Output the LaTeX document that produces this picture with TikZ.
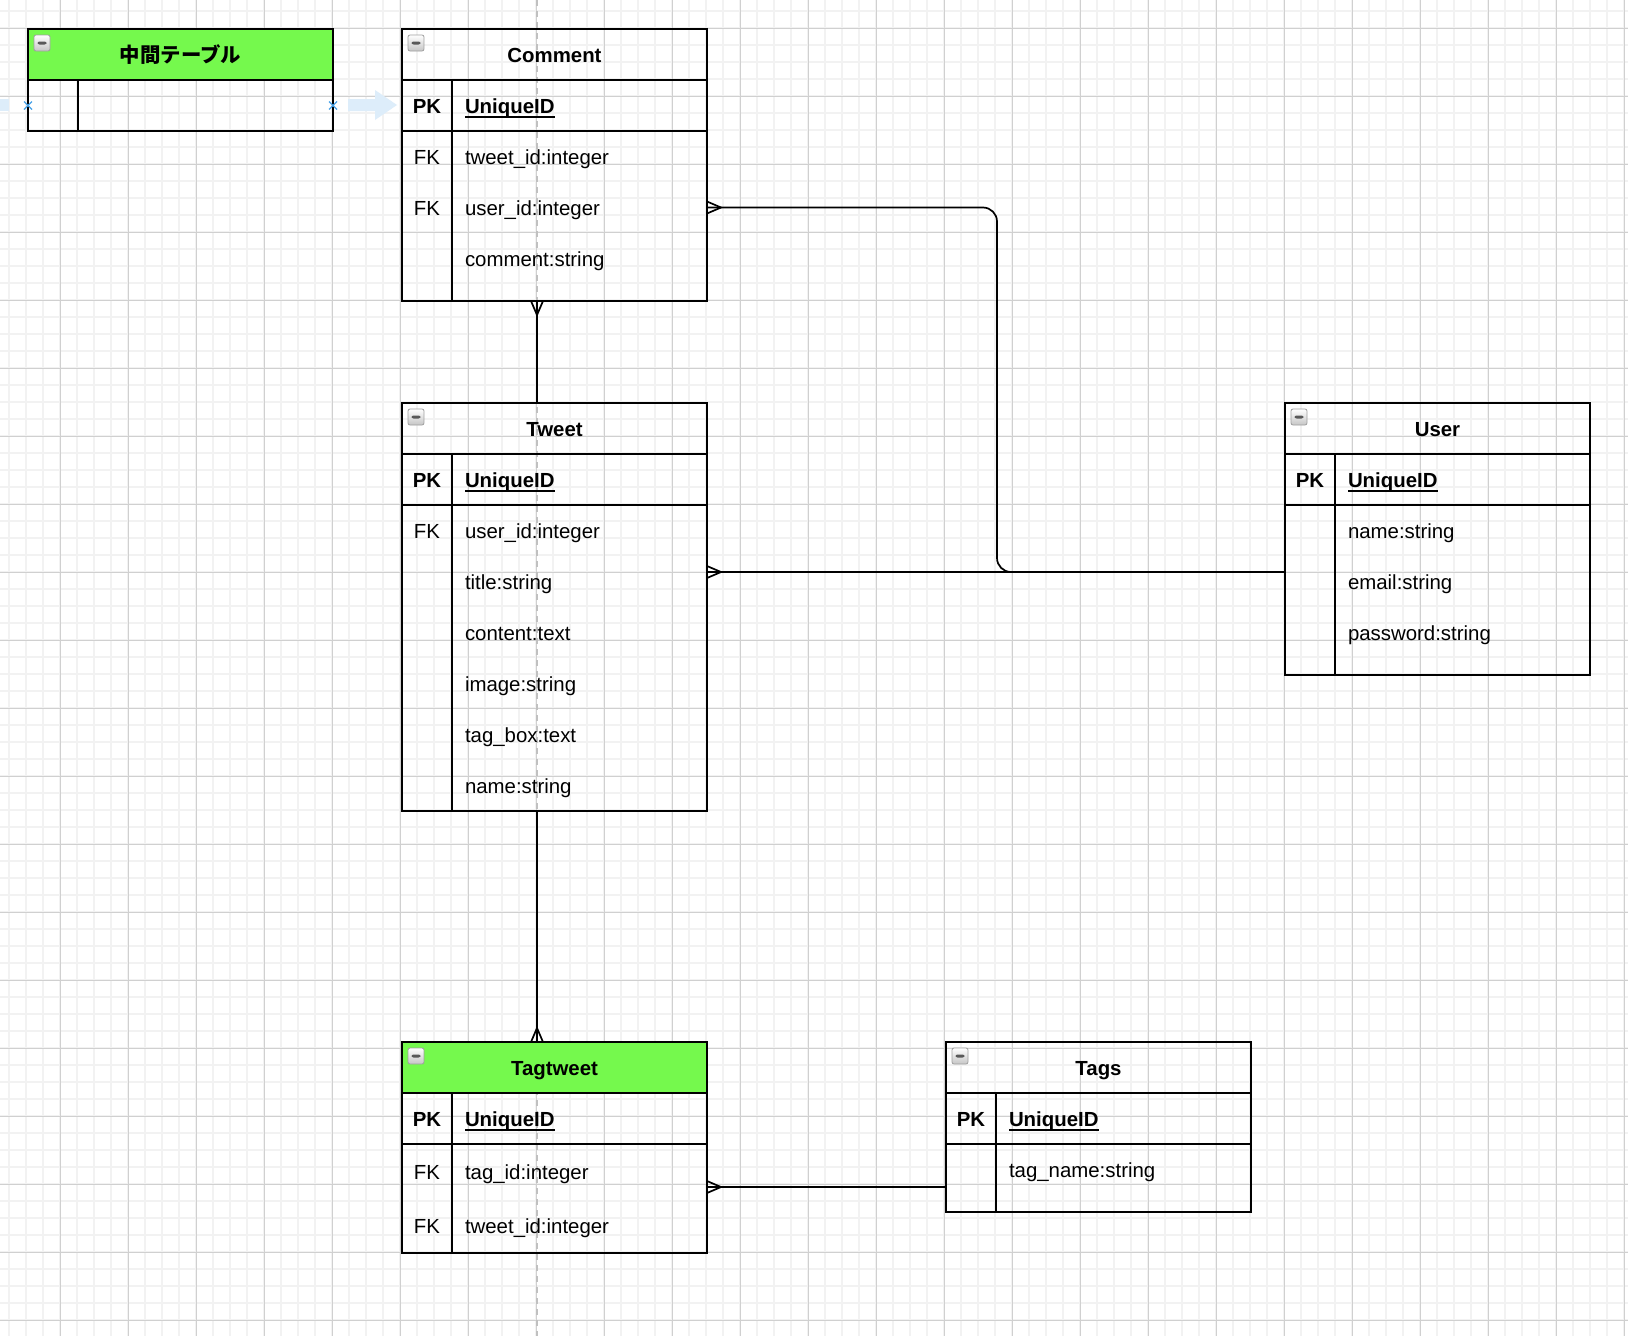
\documentclass[tikz,border=0pt]{standalone}
\usepackage{fontspec}
\setmainfont{Liberation Sans}
\newfontfamily\jpfont{Noto Sans CJK JP}
\usepackage{tikz}
\usetikzlibrary{positioning, decorations.markings}

\definecolor{headgreen}{RGB}{117,249,77}
\definecolor{gridmajorc}{RGB}{208,208,208}
\definecolor{gridminorc}{RGB}{242,242,242}
\definecolor{guidegray}{RGB}{192,192,192}
\definecolor{hoverblue}{RGB}{221,237,250}
\definecolor{markblue}{RGB}{72,162,232}

\newcommand{\tblfont}{\fontsize{20.4}{24.5}\selectfont}
\newsavebox{\keybox}
\newcommand{\keyname}[1]{\sbox{\keybox}{#1}\rlap{\rule[-4pt]{\wd\keybox}{1.6pt}}\usebox{\keybox}}

\begin{document}
\begin{tikzpicture}[x=1pt, y=-1pt,
        entity/.style={draw=black, line width=1.7pt, rectangle, minimum width=305pt, inner sep=0pt, outer sep=0pt},
        entityhead/.style={entity, anchor=north west, minimum height=51pt, font=\tblfont\bfseries, text height=17.6pt, text depth=1.3pt},
        pkrow/.style={entity, minimum height=51pt},
        entityline/.style={draw=black, line width=1.7pt},
        keylabel/.style={minimum width=50pt, minimum height=51pt, inner sep=0pt, outer sep=0pt, font=\tblfont, text height=17.6pt, text depth=1.3pt},
        pkkey/.style={keylabel, font=\tblfont\bfseries},
        attr/.style={text width=229pt, align=left, inner xsep=13pt, inner ysep=0pt, outer sep=0pt, minimum height=51pt, font=\tblfont, text height=17.6pt, text depth=1.3pt},
        collapse/.style={draw=gray!75, line width=0.8pt, rounded corners=2pt, top color=white, bottom color=gray!45, minimum size=16pt, inner sep=0pt, outer sep=0pt, anchor=north west,
            path picture={\fill[black!65] ([xshift=-4.5pt, yshift=-1.5pt]path picture bounding box.center) rectangle ([xshift=4.5pt, yshift=1.5pt]path picture bounding box.center);}},
        relation/.style={draw=black, line width=1.7pt},
        many/.style={postaction={decorate, decoration={markings, mark=at position 1 with {\draw[line width=1.7pt, sharp corners] (0pt,-6pt) -- (-14pt,0pt) -- (0pt,6pt);}}}},
        gridminor/.style={draw=gridminorc, line width=2pt},
        gridmajor/.style={draw=gridmajorc, line width=1pt},
        guide/.style={draw=guidegray, line width=1.5pt, dash pattern=on 6pt off 5pt},
        hovermark/.style={draw=markblue, line width=1.3pt}
    ]

    % Hintergrund
    \fill[white] (0,0) rectangle (1628,1336);
    \useasboundingbox (0,0) rectangle (1628,1336);
    \foreach \gx in {9,26,...,1628} \draw[gridminor] (\gx,0) -- (\gx,1336);
    \foreach \gy in {11,28,...,1336} \draw[gridminor] (0,\gy) -- (1628,\gy);
    \foreach \gx in {60,128,...,1628} \draw[gridmajor] (\gx,0) -- (\gx,1336);
    \foreach \gy in {28,96,...,1336} \draw[gridmajor] (0,\gy) -- (1628,\gy);
    \draw[guide] (537,0) -- (537,1336);
    \fill[hoverblue] (0,99) rectangle (9,111);
    \fill[hoverblue] (348,99) -- (375,99) -- (375,90) -- (397,105) -- (375,120) -- (375,111) -- (348,111) -- cycle;

    % Zwischentabelle
    \node[entityhead, fill=headgreen] (mid) at (28,29) {\jpfont 中間テーブル};
    \node[collapse] (midbtn) at ([xshift=6pt, yshift=-6pt]mid.north west) {};
    \node[pkrow, below=0pt of mid] (midrow) {};
    \draw[entityline] ([xshift=50pt]midrow.north west) -- ([xshift=50pt]midrow.south west);
    \draw[hovermark] ([shift={(-4pt,-4pt)}]midrow.west) -- ([shift={(4pt,4pt)}]midrow.west)
                     ([shift={(-4pt,4pt)}]midrow.west) -- ([shift={(4pt,-4pt)}]midrow.west);
    \draw[hovermark] ([shift={(-4pt,-4pt)}]midrow.east) -- ([shift={(4pt,4pt)}]midrow.east)
                     ([shift={(-4pt,4pt)}]midrow.east) -- ([shift={(4pt,-4pt)}]midrow.east);

    % Comment
    \node[entityhead] (comment) at (402,29) {Comment};
    \node[collapse] (commentbtn) at ([xshift=6pt, yshift=-6pt]comment.north west) {};
    \node[pkrow, below=0pt of comment] (commentpk) {};
    \node[entity, minimum height=170pt, below=0pt of commentpk] (commentbody) {};
    \draw[entityline] ([xshift=50pt]commentpk.north west) -- ([xshift=50pt]commentbody.south west);
    \node[pkkey, anchor=west] (commentpkk) at (commentpk.west) {PK};
    \node[attr, anchor=west] (commentpkn) at ([xshift=50pt]commentpk.west) {\bfseries\keyname{UniqueID}};
    \node[attr, anchor=north west] (commentf1) at ([xshift=50pt]commentbody.north west) {tweet\_id:integer};
    \node[attr, below=0pt of commentf1] (commentf2) {user\_id:integer};
    \node[attr, below=0pt of commentf2] (commentf3) {comment:string};
    \node[keylabel, left=0pt of commentf1] (commentk1) {FK};
    \node[keylabel, left=0pt of commentf2] (commentk2) {FK};

    % Tweet
    \node[entityhead] (tweet) at (402,403) {Tweet};
    \node[collapse] (tweetbtn) at ([xshift=6pt, yshift=-6pt]tweet.north west) {};
    \node[pkrow, below=0pt of tweet] (tweetpk) {};
    \node[entity, minimum height=306pt, below=0pt of tweetpk] (tweetbody) {};
    \draw[entityline] ([xshift=50pt]tweetpk.north west) -- ([xshift=50pt]tweetbody.south west);
    \node[pkkey, anchor=west] (tweetpkk) at (tweetpk.west) {PK};
    \node[attr, anchor=west] (tweetpkn) at ([xshift=50pt]tweetpk.west) {\bfseries\keyname{UniqueID}};
    \node[attr, anchor=north west] (tweetf1) at ([xshift=50pt]tweetbody.north west) {user\_id:integer};
    \node[attr, below=0pt of tweetf1] (tweetf2) {title:string};
    \node[attr, below=0pt of tweetf2] (tweetf3) {content:text};
    \node[attr, below=0pt of tweetf3] (tweetf4) {image:string};
    \node[attr, below=0pt of tweetf4] (tweetf5) {tag\_box:text};
    \node[attr, below=0pt of tweetf5] (tweetf6) {name:string};
    \node[keylabel, left=0pt of tweetf1] (tweetk1) {FK};

    % User
    \node[entityhead] (user) at (1285,403) {User};
    \node[collapse] (userbtn) at ([xshift=6pt, yshift=-6pt]user.north west) {};
    \node[pkrow, below=0pt of user] (userpk) {};
    \node[entity, minimum height=170pt, below=0pt of userpk] (userbody) {};
    \draw[entityline] ([xshift=50pt]userpk.north west) -- ([xshift=50pt]userbody.south west);
    \node[pkkey, anchor=west] (userpkk) at (userpk.west) {PK};
    \node[attr, anchor=west] (userpkn) at ([xshift=50pt]userpk.west) {\bfseries\keyname{UniqueID}};
    \node[attr, anchor=north west] (userf1) at ([xshift=50pt]userbody.north west) {name:string};
    \node[attr, below=0pt of userf1] (userf2) {email:string};
    \node[attr, below=0pt of userf2] (userf3) {password:string};
    \coordinate (userport) at ([yshift=-67pt]userpk.south west);

    % Tagtweet
    \node[entityhead, fill=headgreen] (tagtweet) at (402,1042) {Tagtweet};
    \node[collapse] (tagtweetbtn) at ([xshift=6pt, yshift=-6pt]tagtweet.north west) {};
    \node[pkrow, below=0pt of tagtweet] (tagtweetpk) {};
    \node[entity, minimum height=109pt, below=0pt of tagtweetpk] (tagtweetbody) {};
    \draw[entityline] ([xshift=50pt]tagtweetpk.north west) -- ([xshift=50pt]tagtweetbody.south west);
    \node[pkkey, anchor=west] (tagtweetpkk) at (tagtweetpk.west) {PK};
    \node[attr, anchor=west] (tagtweetpkn) at ([xshift=50pt]tagtweetpk.west) {\bfseries\keyname{UniqueID}};
    \node[attr, minimum height=54pt, anchor=north west] (tagtweetf1) at ([xshift=50pt]tagtweetbody.north west) {tag\_id:integer};
    \node[attr, minimum height=54pt, below=0pt of tagtweetf1] (tagtweetf2) {tweet\_id:integer};
    \node[keylabel, left=0pt of tagtweetf1] (tagtweetk1) {FK};
    \node[keylabel, left=0pt of tagtweetf2] (tagtweetk2) {FK};

    % Tags
    \node[entityhead] (tags) at (946,1042) {Tags};
    \node[collapse] (tagsbtn) at ([xshift=6pt, yshift=-6pt]tags.north west) {};
    \node[pkrow, below=0pt of tags] (tagspk) {};
    \node[entity, minimum height=68pt, below=0pt of tagspk] (tagsbody) {};
    \draw[entityline] ([xshift=50pt]tagspk.north west) -- ([xshift=50pt]tagsbody.south west);
    \node[pkkey, anchor=west] (tagspkk) at (tagspk.west) {PK};
    \node[attr, anchor=west] (tagspkn) at ([xshift=50pt]tagspk.west) {\bfseries\keyname{UniqueID}};
    \node[attr, anchor=north west] (tagsf1) at ([xshift=50pt]tagsbody.north west) {tag\_name:string};
    \coordinate (tagsport) at ([yshift=-43pt]tagspk.south west);

    % Beziehungen
    \draw[relation, many] ([xshift=-17.5pt]tweet.north) -- ([xshift=-17.5pt]commentbody.south);
    \draw[relation, many, rounded corners=14pt] (userport) -| ([xshift=290pt]commentf2.east) -- (commentf2.east);
    \draw[relation, many] (userport) -- (userport -| tweetbody.east);
    \draw[relation, many] ([xshift=-17.5pt]tweetbody.south) -- ([xshift=-17.5pt]tagtweet.north);
    \draw[relation, many] (tagsport) -- (tagsport -| tagtweetbody.east);

\end{tikzpicture}
\end{document}
